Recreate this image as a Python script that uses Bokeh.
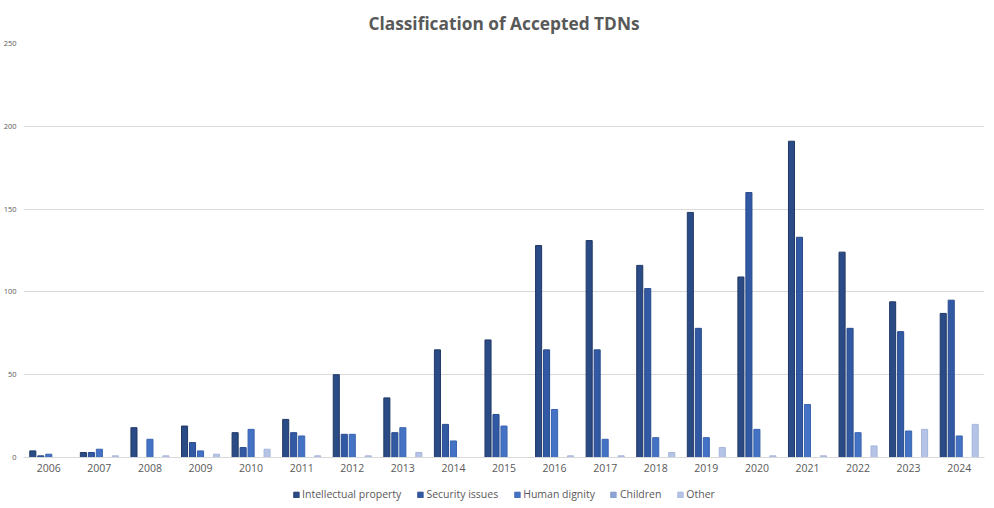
from bokeh.plotting import figure
from bokeh.layouts import column
from bokeh.models import FactorRange, ColumnDataSource, Legend, LegendItem, Title, Range1d
from bokeh.transform import dodge
from bokeh.embed import file_html
from bokeh.resources import INLINE

years = [str(y) for y in range(2006, 2025)]
intellectual_property = [4, 3, 18, 19, 15, 23, 50, 36, 65, 71, 128, 131, 116, 148, 109, 191, 124, 94, 87]
security_issues = [1, 3, 0, 9, 6, 15, 14, 15, 20, 26, 65, 65, 102, 78, 160, 133, 78, 76, 95]
human_dignity = [2, 5, 11, 4, 17, 13, 14, 18, 10, 19, 29, 11, 12, 12, 17, 32, 15, 16, 13]
children = [0] * 19
other = [0, 1, 1, 2, 5, 1, 1, 3, 0, 0, 1, 1, 3, 6, 1, 1, 7, 17, 20]
series_names = ["Intellectual property", "Security issues", "Human dignity", "Children", "Other"]
y_ticks = [0, 50, 100, 150, 200, 250]

fills = ["#2B4B86", "#3259A3", "#4472C4", "#8EA4D7", "#B4C3E6"]
lines = ["#203864", "#284A8C", "#3A64B0", "#7F95C9", "#A5B5DC"]

src = ColumnDataSource(dict(year=years, ip=intellectual_property, sec=security_issues,
                            hd=human_dignity, ch=children, ot=other))
cols = ["ip", "sec", "hd", "ch", "ot"]

x_range = FactorRange(*years)
p = figure(width=994, height=480, x_range=x_range, y_range=(0, 250),
           output_backend="svg", toolbar_location=None,
           min_border_left=23, min_border_right=10, min_border_top=43, min_border_bottom=23)
p.outline_line_color = None
p.background_fill_color = "white"
p.border_fill_color = "white"

title = Title(text="Classification of Accepted TDNs", align="center", offset=-7,
              text_font="Open Sans", text_font_size="17.3px", text_font_style="bold",
              text_color="#595959", standoff=18)
p.add_layout(title, "above")

step = 0.158
bw = 0.12
for i, c in enumerate(cols):
    p.vbar(x=dodge("year", (i - 2) * step, range=x_range), top=c, width=bw, source=src,
           fill_color=fills[i], line_color=lines[i], line_width=1)

p.yaxis.ticker = y_ticks
p.yaxis.axis_line_color = None
p.yaxis.major_tick_line_color = None
p.yaxis.minor_tick_line_color = None
p.yaxis.major_tick_out = 0
p.yaxis.major_label_text_font = "Open Sans"
p.yaxis.major_label_text_font_size = "7.5px"
p.yaxis.major_label_text_color = "#595959"
p.yaxis.major_label_standoff = 7

p.xaxis.axis_line_color = "#D9D9D9"
p.xaxis.major_tick_line_color = None
p.xaxis.minor_tick_line_color = None
p.xaxis.major_tick_out = 0
p.xaxis.major_label_text_font = "Open Sans"
p.xaxis.major_label_text_font_size = "10.5px"
p.xaxis.major_label_text_color = "#595959"
p.xaxis.major_label_standoff = 6

p.xgrid.grid_line_color = None
p.ygrid.grid_line_color = "#D9D9D9"
p.ygrid.grid_line_width = 1

# legend strip below the chart: same series, y-range set so that only the legend shows
lg = figure(width=994, height=28, x_range=x_range, y_range=Range1d(1000, 1001),
            output_backend="svg", toolbar_location=None, min_border=0,
            x_axis_location=None, y_axis_location=None)
lg.outline_line_color = None
lg.grid.visible = False
items = []
for i, (c, name) in enumerate(zip(cols, series_names)):
    r = lg.vbar(x=dodge("year", (i - 2) * step, range=x_range), top=c, width=bw, source=src,
                fill_color=fills[i], line_color=lines[i], line_width=1)
    items.append(LegendItem(label=name, renderers=[r]))
legend = Legend(items=items, orientation="horizontal", location="center",
                glyph_width=7, glyph_height=7, label_standoff=3, spacing=15,
                padding=0, margin=0, border_line_color=None, background_fill_alpha=0,
                label_text_font="Open Sans", label_text_font_size="10.5px",
                label_text_color="#595959", label_height=12)
lg.add_layout(legend)

open("out.html", "w").write(file_html(column(p, lg, spacing=0), INLINE))
